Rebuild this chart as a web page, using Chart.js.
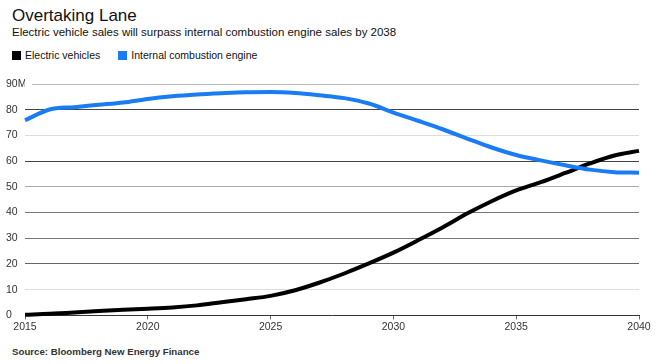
<!DOCTYPE html>
<html>
<head>
<meta charset="utf-8">
<script src="https://cdn.jsdelivr.net/npm/chart.js@4"></script>
<style>
  body { margin: 0; background: #fff; font-family: "Liberation Sans", Arial, sans-serif; color: #111; }
  #page { position: relative; width: 656px; height: 364px; overflow: hidden; }
  .title { position: absolute; left: 12px; top: 6px; font-size: 17px; }
  .subtitle { position: absolute; left: 12px; top: 26px; font-size: 11.5px; }
  .legend { position: absolute; left: 12px; top: 49px; font-size: 10.5px; display: flex; align-items: center; }
  .legend span.box { display: inline-block; width: 9px; height: 9px; margin-right: 4px; }
  .legend span.item { display: flex; align-items: center; margin-right: 18px; }
  .source { position: absolute; left: 12px; top: 346px; font-size: 9.7px; font-weight: bold; color: #333; }
  #wrap { position: absolute; left: 0; top: 70px; width: 656px; height: 264px; }
</style>
</head>
<body>
<div id="page">
  <div class="title">Overtaking Lane</div>
  <div class="subtitle">Electric vehicle sales will surpass internal combustion engine sales by 2038</div>
  <div class="legend">
    <span class="item"><span class="box" style="background:#000"></span>Electric vehicles</span>
    <span class="item"><span class="box" style="background:#1a7cf5"></span>Internal combustion engine</span>
  </div>
  <div id="wrap"><canvas id="chart"></canvas></div>
  <div class="source">Source: Bloomberg New Energy Finance</div>
</div>
<script>
const years = [2015, 2016, 2017, 2018, 2019, 2020, 2021, 2022, 2023, 2024, 2025, 2026, 2027,
  2028, 2029, 2030, 2031, 2032, 2033, 2034, 2035, 2036, 2037, 2038, 2039, 2040];
// millions of vehicles sold per year
const electric = [0.3, 0.6, 1.1, 1.7, 2.2, 2.6, 3.1, 3.9, 5.1, 6.3, 7.6, 9.8, 12.8,
  16.3, 20.2, 24.4, 29.2, 34.2, 39.6, 44.4, 48.6, 51.8, 55.4, 59.1, 62.2, 64.0];
const combustion = [75.9, 80.1, 81.0, 81.9, 82.8, 84.2, 85.2, 85.9, 86.4, 86.8, 86.9, 86.5, 85.6,
  84.5, 82.4, 78.9, 75.7, 72.4, 68.8, 65.3, 62.4, 60.3, 58.4, 56.7, 55.7, 55.5];
const yTicks = [0, 10, 20, 30, 40, 50, 60, 70, 80, 90];
const gridColors = { 90: "#bbb", 80: "#444", 70: "#ddd", 60: "#444", 50: "#aaa",
  40: "#777", 30: "#777", 20: "#666", 10: "#ddd", 0: "rgba(0,0,0,0)" };

const font = { family: "'Liberation Sans', Arial, sans-serif", size: 10.5 };

// the top gridline starts a little after the "90M" label (labels are drawn later, z: 1)
const labelGap = {
  id: "labelGap",
  beforeDatasetsDraw(chart) {
    const py = chart.scales.y.getPixelForValue(90);
    const c = chart.ctx;
    c.save();
    c.fillStyle = "#fff";
    c.fillRect(chart.chartArea.left - 2, py - 1.5, 9, 3);
    c.restore();
  },
};

new Chart(document.getElementById("chart").getContext("2d"), {
  type: "line",
  data: {
    datasets: [
      {
        label: "Internal combustion engine",
        data: years.map((y, i) => ({ x: y, y: combustion[i] })),
        borderColor: "#1a7cf5",
        borderWidth: 4,
        pointRadius: 0,
        cubicInterpolationMode: "monotone",
      },
      {
        label: "Electric vehicles",
        data: years.map((y, i) => ({ x: y, y: electric[i] })),
        borderColor: "#000",
        borderWidth: 4,
        pointRadius: 0,
        cubicInterpolationMode: "monotone",
      },
    ],
  },
  plugins: [labelGap],
  options: {
    responsive: true,
    maintainAspectRatio: false,
    animation: false,
    clip: false,
    layout: { padding: { left: 6, right: 17, top: 14, bottom: 0 } },
    plugins: { legend: { display: false }, tooltip: { enabled: false } },
    scales: {
      x: {
        type: "linear",
        min: 2015,
        max: 2040,
        ticks: { stepSize: 5, color: "#333", font, padding: 1, callback: (v) => String(v) },
        grid: { drawOnChartArea: false, color: "#666", tickLength: 4 },
        border: { color: "#333", width: 1 },
      },
      y: {
        min: 0,
        max: 90,
        afterBuildTicks: (scale) => { scale.ticks = yTicks.map((v) => ({ value: v })); },
        afterFit: (scale) => { scale.width = 19; },
        ticks: {
          color: "#333",
          font,
          z: 1,
          crossAlign: "far",
          padding: 0,
          callback: (v) => (v === 90 ? "90M" : String(v)),
        },
        grid: {
          drawTicks: false,
          color: (ctx) => gridColors[ctx.tick.value] || "#999",
        },
        border: { display: false },
      },
    },
  },
});
</script>
</body>
</html>
